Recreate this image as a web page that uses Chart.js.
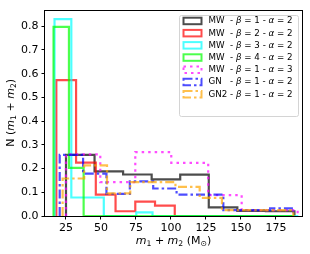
<!DOCTYPE html>
<html>
<head>
<meta charset="utf-8">
<script src="https://cdn.jsdelivr.net/npm/chart.js@4.4.1/dist/chart.umd.min.js"></script>
<style>
  html, body { margin: 0; padding: 0; background: #fff; }
  #wrap { width: 310px; height: 254px; }
</style>
</head>
<body>
<div id="wrap"><canvas id="hist" width="310" height="254"></canvas></div>
<script>
// series labels (legend order)
const labels = [
  "MW  - β = 1 - α = 2",
  "MW  - β = 2 - α = 2",
  "MW  - β = 3 - α = 2",
  "MW  - β = 4 - α = 2",
  "MW  - β = 1 - α = 3",
  "GN   - β = 1 - α = 2",
  "GN2 - β = 1 - α = 2"
];

// bin edges (m1 + m2) and fractions per bin
const edgesB1A2 = [25, 45.4, 65.8, 86.2, 106.6, 127, 147.4, 167.8, 188.2];
const fracB1A2  = [0.258, 0.188, 0.175, 0.154, 0.174, 0.036, 0.022, 0.02];

const edgesB2A2 = [18.1, 32.2, 46.3, 60.4, 74.5, 88.6, 102.7, 187];
const fracB2A2  = [0.573, 0.225, 0.09, 0.02, 0.061, 0.044, 0];

const edgesB3A2 = [16.8, 28.8, 52.0, 75.2, 86.8, 191];
const fracB3A2  = [0.83, 0.078, 0, 0.015, 0];

const edgesB4A2 = [16.1, 27.1, 37.6, 188];
const fracB4A2  = [0.797, 0.203, 0];

const edgesB1A3 = [25, 49.5, 74.5, 100.2, 126.6, 150.5, 190.5];
const fracB1A3  = [0.26, 0.143, 0.269, 0.224, 0.088, 0.025];

const edgesGN = [20.5, 37.2, 53.9, 70.6, 87.3, 104, 137.4, 170.8, 187.5];
const fracGN  = [0.258, 0.179, 0.093, 0.146, 0.116, 0.09, 0.025, 0.032];

const edgesGN2 = [22.6, 38, 54.3, 70.9, 87.3, 103.2, 120.5, 136.4, 187.4];
const fracGN2  = [0.158, 0.213, 0.095, 0.143, 0.143, 0.123, 0.076, 0.025];

const xTicks = [25, 50, 75, 100, 125, 150, 175];
const yTicks = [0, 0.1, 0.2, 0.3, 0.4, 0.5, 0.6, 0.7, 0.8];

// step outline like matplotlib histtype="step"
function stepPoints(edges, vals) {
  const pts = [{ x: edges[0], y: 0 }];
  vals.forEach((v, i) => {
    pts.push({ x: edges[i], y: v });
    pts.push({ x: edges[i + 1], y: v });
  });
  pts.push({ x: edges[edges.length - 1], y: 0 });
  return pts;
}

const styles = [
  { color: "rgba(0,0,0,0.7)", dash: [] },
  { color: "rgba(255,0,0,0.7)", dash: [] },
  { color: "rgba(0,255,255,0.7)", dash: [] },
  { color: "rgba(0,255,0,0.7)", dash: [] },
  { color: "rgba(255,0,255,0.7)", dash: [2.5, 4] },
  { color: "rgba(0,0,255,0.7)", dash: [9, 3, 2.5, 3] },
  { color: "rgba(255,165,0,0.7)", dash: [9, 3, 2.5, 3] }
];
const allEdges = [edgesB1A2, edgesB2A2, edgesB3A2, edgesB4A2, edgesB1A3, edgesGN, edgesGN2];
const allFrac = [fracB1A2, fracB2A2, fracB3A2, fracB4A2, fracB1A3, fracGN, fracGN2];

const datasets = labels.map((lab, i) => ({
  label: lab,
  data: stepPoints(allEdges[i], allFrac[i]),
  borderColor: styles[i].color,
  borderDash: styles[i].dash,
  borderWidth: 2.2,
  pointRadius: 0,
  fill: false,
  order: labels.length - i
}));

const FONT = "'DejaVu Sans', sans-serif";

function runFont(r, size) {
  const s = r.sub ? size * 0.7 : size;
  return (r.it ? "italic " : "") + s + "px " + FONT;
}

// draws mixed italic / subscript text centred on x
function drawRuns(ctx, runs, x, y, size) {
  let total = 0;
  runs.forEach(r => { ctx.font = runFont(r, size); total += ctx.measureText(r.t).width; });
  let cx = x - total / 2;
  runs.forEach(r => {
    ctx.font = runFont(r, size);
    ctx.fillText(r.t, cx, y + (r.sub ? size * 0.28 : 0));
    cx += ctx.measureText(r.t).width;
  });
}

const framePlugin = {
  id: "frame",
  afterDatasetsDraw(chart) {
    const { ctx, chartArea: a } = chart;
    ctx.save();
    ctx.strokeStyle = "#000";
    ctx.lineWidth = 1;
    ctx.strokeRect(Math.round(a.left) - 0.5, Math.round(a.top) + 0.5,
      Math.round(a.right - a.left) + 1, Math.round(a.bottom - a.top));
    ctx.restore();
  },
  afterDraw(chart) {
    const { ctx, chartArea: a } = chart;
    ctx.save();
    ctx.fillStyle = "#000";
    ctx.textBaseline = "middle";
    // x title
    drawRuns(ctx, [
      { t: "m", it: true }, { t: "1", sub: true }, { t: " + " },
      { t: "m", it: true }, { t: "2", sub: true }, { t: " (M" },
      { t: "⊙", sub: true }, { t: ")" }
    ], (a.left + a.right) / 2, 241, 11);
    // y title
    ctx.translate(11, (a.top + a.bottom) / 2);
    ctx.rotate(-Math.PI / 2);
    drawRuns(ctx, [
      { t: "N (" }, { t: "m", it: true }, { t: "1", sub: true }, { t: " + " },
      { t: "m", it: true }, { t: "2", sub: true }, { t: ")" }
    ], 0, 0, 11);
    ctx.restore();

    // legend inside the axes, upper right
    const lx = a.right - 122.5, ly = 15.5, lw = 119, lh = 101;
    ctx.save();
    ctx.beginPath();
    ctx.roundRect(lx, ly, lw, lh, 2);
    ctx.fillStyle = "rgba(255,255,255,0.8)";
    ctx.fill();
    ctx.strokeStyle = "#d4d4d4";
    ctx.lineWidth = 1;
    ctx.stroke();
    chart.data.datasets.forEach((ds, i) => {
      const cy = 20.7 + i * 12.2;
      ctx.setLineDash(ds.borderDash);
      ctx.strokeStyle = ds.borderColor;
      ctx.lineWidth = 2;
      ctx.strokeRect(lx + 4, cy - 3, 18, 6.5);
      ctx.setLineDash([]);
      ctx.fillStyle = "#000";
      ctx.textBaseline = "middle";
      let tx = lx + 29;
      ds.label.split(/([αβ])/).forEach(part => {
        if (!part) return;
        ctx.font = (/[αβ]/.test(part) ? "italic " : "") + "8.7px " + FONT;
        ctx.fillText(part, tx, cy + 0.5);
        tx += ctx.measureText(part).width;
      });
    });
    ctx.restore();
  }
};

new Chart(document.getElementById("hist"), {
  type: "line",
  data: { datasets },
  options: {
    responsive: false,
    animation: false,
    devicePixelRatio: 1,
    layout: { padding: { top: 8, right: 8, left: 0, bottom: 0 } },
    plugins: { legend: { display: false }, tooltip: { enabled: false } },
    scales: {
      x: {
        type: "linear",
        min: 10,
        max: 193.6,
        afterBuildTicks: s => { s.ticks = xTicks.map(v => ({ value: v })); },
        afterFit: s => { s.height = 38; },
        ticks: { font: { family: FONT, size: 11 }, color: "#000", padding: 2, maxRotation: 0, autoSkip: false },
        grid: { display: true, drawOnChartArea: false, drawTicks: true, tickLength: 3.5, color: "#000" },
        border: { display: false }
      },
      y: {
        min: 0,
        max: 0.87,
        afterBuildTicks: s => { s.ticks = yTicks.map(v => ({ value: v })); },
        afterFit: s => { s.width = 45; },
        ticks: { font: { family: FONT, size: 11 }, color: "#000", padding: 3, callback: v => v.toFixed(1) },
        grid: { display: true, drawOnChartArea: false, drawTicks: true, tickLength: 3.5, color: "#000" },
        border: { display: false }
      }
    }
  },
  plugins: [framePlugin]
});
</script>
</body>
</html>
